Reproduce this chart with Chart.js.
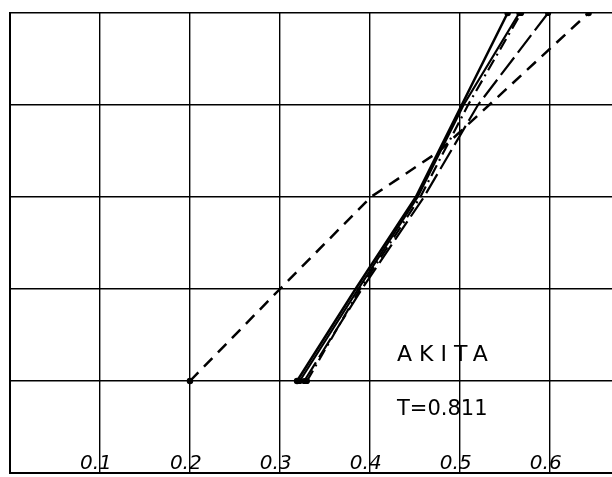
<!DOCTYPE html>
<html>
<head>
<meta charset="utf-8">
<script src="https://cdn.jsdelivr.net/npm/chart.js@4"></script>
<style>
  html, body { margin: 0; padding: 0; background: #fff; }
  canvas { display: block; }
</style>
</head>
<body>
<canvas id="chart" width="612" height="477"></canvas>
<script>
// niveles verticales (sin etiquetas en el original)
const levels = [1, 2, 3, 4, 5];
const dashedLevels = [1, 2, 3, 3.49, 5];

// series
const solidA = [0.319, 0.384, 0.451, 0.502, 0.553];
const solidB = [0.322, 0.387, 0.453, 0.504, 0.566];
const dashDot = [0.330, 0.389, 0.456, 0.509, 0.568];
const longDash = [0.327, 0.391, 0.460, 0.520, 0.598];
const dashed = [0.200, 0.300, 0.401, 0.476, 0.643];

const xTicks = [0.1, 0.2, 0.3, 0.4, 0.5, 0.6];
const stationName = 'AKITA';
const periodLabel = 'T=0.811';

function toPoints(xs, ys) {
    return xs.map((v, i) => ({ x: v, y: ys[i] }));
}

function makeSet(xs, ys, dash, width) {
    return {
        data: toPoints(xs, ys),
        showLine: true,
        borderColor: '#000',
        backgroundColor: '#000',
        borderWidth: width,
        borderDash: dash,
        // solo puntos en los extremos
        pointRadius: ctx => (ctx.dataIndex === 0 || ctx.dataIndex === xs.length - 1) ? 2 : 0,
        tension: 0
    };
}

// textos dibujados dentro del area
const textPlugin = {
    id: 'texts',
    afterDraw(chart) {
        const ctx = chart.ctx;
        const xs = chart.scales.x;
        const ys = chart.scales.y;
        ctx.save();
        ctx.fillStyle = '#000';
        ctx.textBaseline = 'alphabetic';
        ctx.textAlign = 'left';
        ctx.font = 'italic 20px "DejaVu Sans"';
        const base = ys.getPixelForValue(0) - 4;
        xTicks.forEach(t => {
            const px = xs.getPixelForValue(t);
            const w = ctx.measureText('0.').width;
            ctx.fillText(t.toFixed(1), px - w - 1, base);
        });
        ctx.font = '22px "DejaVu Sans"';
        ctx.letterSpacing = '7px';
        ctx.fillText(stationName, 397, 361);
        ctx.letterSpacing = '0px';
        ctx.font = '21px "DejaVu Sans"';
        ctx.fillText(periodLabel, 397, 415);
        ctx.restore();
    }
};

const config = {
    type: 'scatter',
    data: {
        datasets: [
            makeSet(solidA, levels, [], 2.5),
            makeSet(solidB, levels, [], 2.2),
            makeSet(dashDot, levels, [12, 5, 2, 5], 2.2),
            makeSet(longDash, levels, [22, 6], 2.2),
            makeSet(dashed, dashedLevels, [12, 8], 2.5)
        ]
    },
    options: {
        responsive: false,
        animation: false,
        layout: { autoPadding: false, padding: { left: 10, top: 13, right: 0, bottom: 4 } },
        plugins: {
            legend: { display: false },
            tooltip: { enabled: false }
        },
        scales: {
            x: {
                type: 'linear',
                min: 0,
                max: 0.669,
                // sin linea en el borde derecho
                afterBuildTicks: scale => {
                    scale.ticks = scale.ticks.filter(t => t.value <= 0.6 + 1e-9);
                },
                ticks: { display: false, stepSize: 0.1 },
                grid: { color: '#000', lineWidth: 1.4, drawTicks: false },
                border: { color: '#000', width: 2 }
            },
            y: {
                type: 'linear',
                min: 0,
                max: 5,
                ticks: { display: false, stepSize: 1 },
                grid: { color: '#000', lineWidth: 1.4, drawTicks: false },
                border: { color: '#000', width: 2 }
            }
        }
    },
    plugins: [textPlugin]
};

new Chart(document.getElementById('chart'), config);
</script>
</body>
</html>
